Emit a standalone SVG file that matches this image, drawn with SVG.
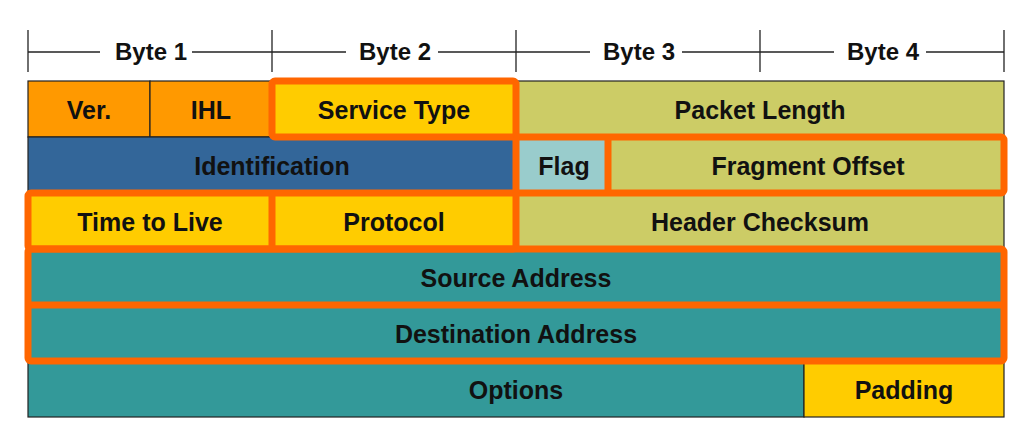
<svg xmlns="http://www.w3.org/2000/svg" width="1023" height="434" viewBox="0 0 1023 434">
<style>
.cell{stroke:#222;stroke-width:1.2}
.t{font-family:"Liberation Sans",Arial,sans-serif;font-weight:bold;font-size:25px;fill:#111;text-anchor:middle}
.h{font-size:24px}
.hl{fill:none;stroke:#FF6600;stroke-width:7;stroke-linejoin:round}
.hd{stroke:#222;stroke-width:1.3}
</style>
<rect width="1023" height="434" fill="#fff"/>
<g id="header">
<g class="hd">
<line x1="28" y1="30" x2="28" y2="72"/><line x1="272" y1="30" x2="272" y2="72"/><line x1="516" y1="30" x2="516" y2="72"/><line x1="760" y1="30" x2="760" y2="72"/><line x1="1004" y1="30" x2="1004" y2="72"/>
<line x1="28" y1="52" x2="100" y2="52"/><line x1="192" y1="52" x2="272" y2="52"/>
<line x1="272" y1="52" x2="346" y2="52"/><line x1="438" y1="52" x2="516" y2="52"/>
<line x1="516" y1="52" x2="590" y2="52"/><line x1="682" y1="52" x2="760" y2="52"/>
<line x1="760" y1="52" x2="834" y2="52"/><line x1="926" y1="52" x2="1004" y2="52"/>
</g>
<text class="t h" x="151" y="60">Byte 1</text>
<text class="t h" x="395" y="60">Byte 2</text>
<text class="t h" x="639" y="60">Byte 3</text>
<text class="t h" x="883" y="60">Byte 4</text>
</g>
<g id="ver"><rect class="cell" x="28" y="81" width="122" height="56" fill="#FF9900"/><text class="t" x="89" y="119">Ver.</text></g>
<g id="ihl"><rect class="cell" x="150" y="81" width="122" height="56" fill="#FF9900"/><text class="t" x="211" y="119">IHL</text></g>
<g id="service-type"><rect class="cell" x="272" y="81" width="244" height="56" fill="#FFCC00"/><text class="t" x="394" y="119">Service Type</text></g>
<g id="packet-length"><rect class="cell" x="516" y="81" width="488" height="56" fill="#CCCC66"/><text class="t" x="760" y="119">Packet Length</text></g>
<g id="identification"><rect class="cell" x="28" y="137" width="488" height="56" fill="#336699"/><text class="t" x="272" y="175">Identification</text></g>
<g id="flag"><rect class="cell" x="516" y="137" width="92" height="56" fill="#99CCCC"/><text class="t" x="564" y="175">Flag</text></g>
<g id="fragment-offset"><rect class="cell" x="608" y="137" width="396" height="56" fill="#CCCC66"/><text class="t" x="808" y="175">Fragment Offset</text></g>
<g id="ttl"><rect class="cell" x="28" y="193" width="244" height="56" fill="#FFCC00"/><text class="t" x="150" y="231">Time to Live</text></g>
<g id="protocol"><rect class="cell" x="272" y="193" width="244" height="56" fill="#FFCC00"/><text class="t" x="394" y="231">Protocol</text></g>
<g id="header-checksum"><rect class="cell" x="516" y="193" width="488" height="56" fill="#CCCC66"/><text class="t" x="760" y="231">Header Checksum</text></g>
<g id="source-address"><rect class="cell" x="28" y="249" width="976" height="56" fill="#339999"/><text class="t" x="516" y="287">Source Address</text></g>
<g id="destination-address"><rect class="cell" x="28" y="305" width="976" height="56" fill="#339999"/><text class="t" x="516" y="343">Destination Address</text></g>
<g id="options"><rect class="cell" x="28" y="361" width="776" height="56" fill="#339999"/><text class="t" x="516" y="399">Options</text></g>
<g id="padding"><rect class="cell" x="804" y="361" width="200" height="56" fill="#FFCC00"/><text class="t" x="904" y="399">Padding</text></g>
<g id="highlights">
<rect class="hl" x="272" y="81" width="244" height="56" rx="3"/>
<rect class="hl" x="516" y="137" width="488" height="56" rx="3"/>
<line class="hl" x1="608" y1="137" x2="608" y2="193"/>
<rect class="hl" x="28" y="193" width="488" height="56" rx="3"/>
<line class="hl" x1="272" y1="193" x2="272" y2="249"/>
<rect class="hl" x="28" y="249" width="976" height="112" rx="3"/>
<line class="hl" x1="28" y1="305" x2="1004" y2="305"/>
</g>
</svg>
